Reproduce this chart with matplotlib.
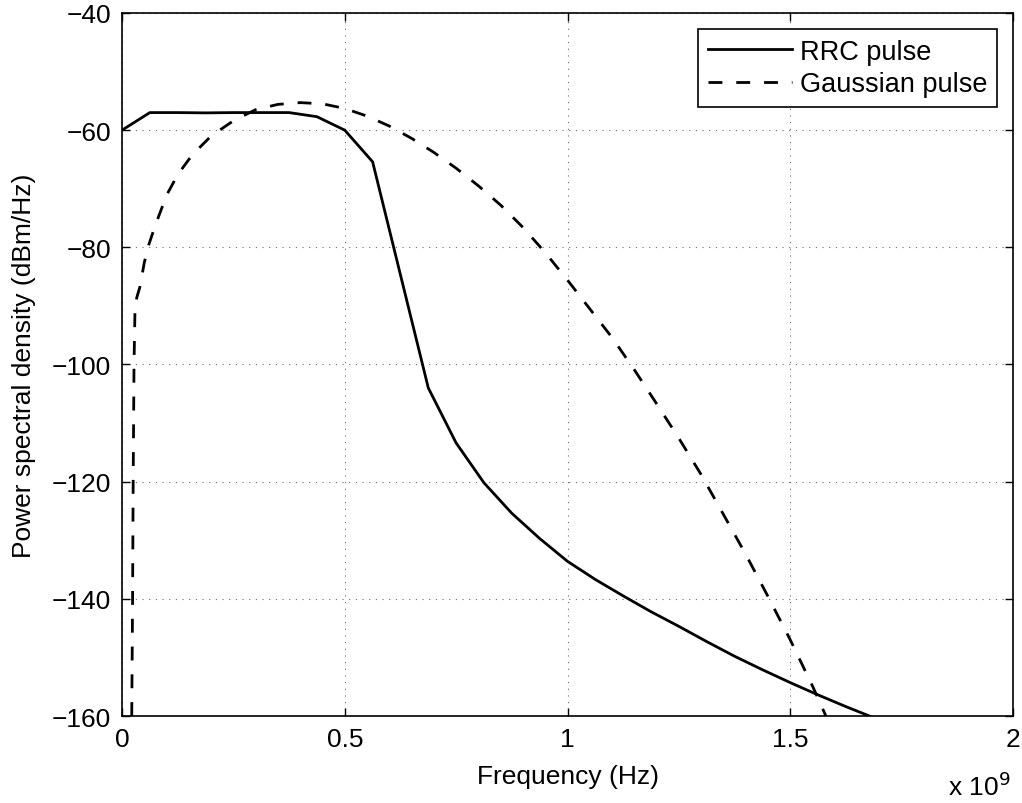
import numpy as np
import matplotlib.pyplot as plt

plt.rcParams['font.family'] = ['Liberation Sans', 'DejaVu Sans']

# RRC pulse PSD (frequency in units of 1e9 Hz)
f_rrc = [0.0, 0.0625, 0.125, 0.1875, 0.25, 0.3125, 0.375, 0.4375, 0.5, 0.5625,
         0.625, 0.6875, 0.75, 0.8125, 0.875, 0.9375, 1.0, 1.0625, 1.125, 1.1875,
         1.25, 1.3125, 1.375, 1.4375, 1.5, 1.5625, 1.625, 1.6875, 1.75]
psd_rrc = [-60.0, -57.0, -57.0, -57.05, -57.0, -57.0, -57.0, -57.7, -60.0, -65.4,
           -84.7, -104.0, -113.4, -120.2, -125.4, -129.7, -133.6, -136.7, -139.5, -142.2,
           -144.7, -147.3, -149.8, -152.1, -154.3, -156.4, -158.4, -160.3, -162.0]

# Gaussian pulse PSD
f_gau = [0.0218, 0.0237, 0.025, 0.0269, 0.029, 0.033, 0.040, 0.05, 0.059, 0.074,
         0.1, 0.125, 0.15, 0.175, 0.2, 0.25, 0.3, 0.35, 0.4, 0.45,
         0.5, 0.55, 0.6, 0.65, 0.7, 0.75, 0.8, 0.85, 0.9, 0.95,
         1.0, 1.05, 1.1, 1.15, 1.2, 1.25, 1.3, 1.35, 1.4, 1.45,
         1.5, 1.55, 1.58]
psd_gau = [-160.0, -140.0, -120.0, -100.0, -91.0, -88.6, -86.8, -82.6, -79.8, -76.4,
           -71.1, -67.6, -65.0, -62.9, -61.0, -58.4, -56.5, -55.6, -55.3, -55.5,
           -56.3, -57.6, -59.3, -61.4, -63.8, -66.5, -69.5, -72.8, -76.6, -80.9,
           -85.6, -90.5, -95.4, -100.9, -106.7, -112.6, -118.8, -125.6, -132.4, -139.6,
           -147.0, -154.9, -160.0]

xticks = [0, 0.5, 1, 1.5, 2]
xticklabels = ['0', '0.5', '1', '1.5', '2']
yticks = [-160, -140, -120, -100, -80, -60, -40]

fig = plt.figure(figsize=(10.22, 8.04), dpi=100)
ax = fig.add_axes([0.1194, 0.1082, 0.8718, 0.8744])

ax.plot(f_rrc, psd_rrc, color='black', lw=2.0, label='RRC pulse')
ax.plot(f_gau, psd_gau, color='black', lw=2.0, linestyle=(0, (5.0, 5.0)),
        dash_capstyle='butt', label='Gaussian pulse')

ax.set_xlim(0, 2)
ax.set_ylim(-160, -40)
ax.set_xticks(xticks)
ax.set_xticklabels(xticklabels)
ax.set_yticks(yticks)
ax.set_yticklabels(['\u2212' + str(abs(t)) for t in yticks])

ax.grid(True, linestyle=(0, (1, 5)), color='black', lw=0.8, alpha=0.6)
ax.tick_params(direction='in', top=True, right=True, length=6, width=1, labelsize=19, pad=8)
for s in ax.spines.values():
    s.set_linewidth(1.2)

ax.set_xlabel('Frequency (Hz)', fontsize=19, labelpad=9)
ax.set_ylabel('Power spectral density (dBm/Hz)', fontsize=19, labelpad=11)

leg = ax.legend(loc='upper right', fontsize=19.5, fancybox=False, edgecolor='black',
                framealpha=1, borderaxespad=0.6, handlelength=3.1, handletextpad=0.3,
                borderpad=0.35, labelspacing=0.25)
leg.get_frame().set_linewidth(1.2)

fig.text(0.989, 0.004, r'x 10$^{9}$', fontsize=19, ha='right', va='bottom')

fig.savefig('out.png', dpi=100)
